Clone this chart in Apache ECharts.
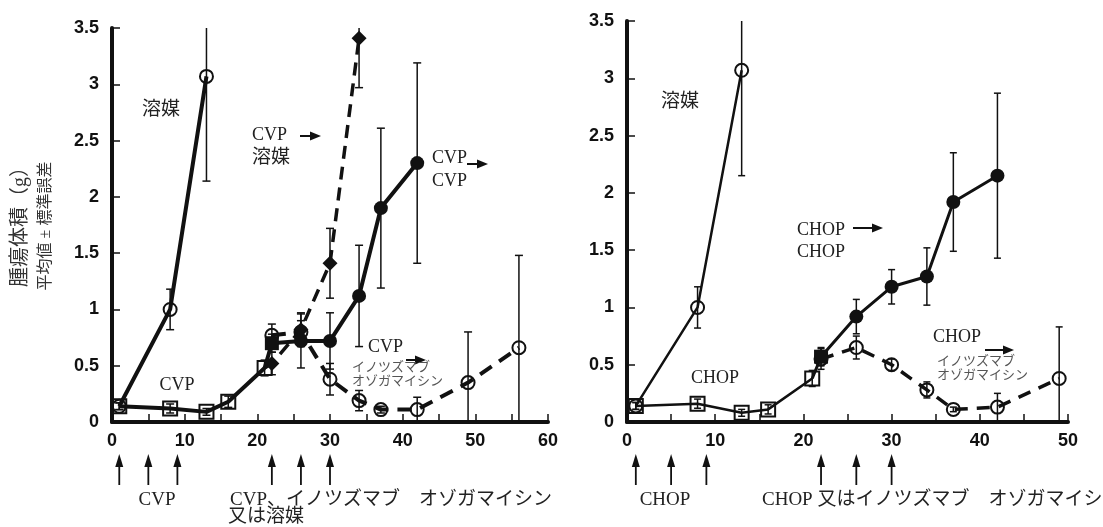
<!DOCTYPE html>
<html>
<head>
<meta charset="utf-8">
<script src="https://cdn.jsdelivr.net/npm/echarts@6/dist/echarts.min.js"></script>
<style>
  html, body { margin: 0; padding: 0; background: #fff; }
  #chart { width: 1103px; height: 527px; }
</style>
</head>
<body>
<div id="chart"></div>
<script>
// ---- CVP study (left panel): tumour volume, mean and standard error, by day ----
const cvpVehicleDays = [1, 8, 13];
const cvpVehicleMean = [0.14, 1.00, 3.07];
const cvpVehicleSe   = [0.03, 0.18, 0.93];

const cvpInductionDays = [1, 8, 13, 16, 21];
const cvpInductionMean = [0.14, 0.12, 0.09, 0.18, 0.48];
const cvpInductionSe   = [0.03, 0.04, 0.03, 0.05, 0.07];

const cvpThenVehicleDays = [22, 26, 30, 34];
const cvpThenVehicleMean = [0.52, 0.82, 1.41, 3.41];
const cvpThenVehicleSe   = [0.10, 0.15, 0.31, 0.44];

const cvpThenCvpDays = [22, 26, 30, 34, 37, 42];
const cvpThenCvpMean = [0.70, 0.72, 0.72, 1.12, 1.90, 2.30];
const cvpThenCvpSe   = [0.08, 0.24, 0.25, 0.45, 0.71, 0.89];

const cvpThenInoDays = [22, 26, 30, 34, 37, 42, 49, 56];
const cvpThenInoMean = [0.77, 0.80, 0.38, 0.19, 0.11, 0.11, 0.35, 0.66];
const cvpThenInoSe   = [0.10, 0.10, 0.14, 0.09, 0.03, 0.11, 0.45, 0.82];

const cvpDoseDays = [1, 5, 9, 22, 26, 30];

// ---- CHOP study (right panel) ----
const chopVehicleDays = [1, 8, 13];
const chopVehicleMean = [0.14, 1.00, 3.07];
const chopVehicleSe   = [0.03, 0.18, 0.92];

const chopInductionDays = [1, 8, 13, 16, 21];
const chopInductionMean = [0.14, 0.16, 0.08, 0.11, 0.38];
const chopInductionSe   = [0.03, 0.04, 0.03, 0.04, 0.07];

const chopThenChopDays = [22, 26, 30, 34, 37, 42];
const chopThenChopMean = [0.57, 0.92, 1.18, 1.27, 1.92, 2.15];
const chopThenChopSe   = [0.08, 0.15, 0.15, 0.25, 0.43, 0.72];

const chopThenInoDays = [22, 26, 30, 34, 37, 42, 49];
const chopThenInoMean = [0.55, 0.65, 0.50, 0.28, 0.11, 0.13, 0.38];
const chopThenInoSe   = [0.09, 0.10, 0.05, 0.07, 0.02, 0.12, 0.45];

const chopDoseDays = [1, 5, 9, 22, 26, 30];

// ---- axis ticks ----
const yTicks = [0, 0.5, 1, 1.5, 2, 2.5, 3, 3.5];
const cvpXMax = 60;
const chopXMax = 50;

// ---- drawing ----
const INK = '#111';
const SERIF = "'Liberation Serif','Noto Sans CJK JP',serif";
const SANS_BOLD = "'Liberation Sans',Arial,sans-serif";

const toPoints = (days, mean) => days.map((d, i) => [d, mean[i]]);

function curve(grid, days, mean, cfg) {
  const data = toPoints(days, mean).map((p, i) =>
    (i === 0 && cfg.firstSymbol) ? { value: p, symbol: cfg.firstSymbol } : { value: p });
  if (cfg.joinFrom) data.unshift({ value: cfg.joinFrom, symbol: 'none' });
  return {
    type: 'line', xAxisIndex: grid, yAxisIndex: grid, data,
    symbol: cfg.symbol, symbolSize: cfg.size,
    showAllSymbol: true,
    lineStyle: { color: INK, width: cfg.width, type: cfg.dash || 'solid' },
    itemStyle: {
      color: cfg.filled ? INK : 'rgba(255,255,255,0)',
      borderColor: INK, borderWidth: cfg.filled ? 0 : 2
    },
    emphasis: { disabled: true },
    z: cfg.z || 3, animation: false, silent: true
  };
}

function errorBars(grid, days, mean, se, cap) {
  return {
    type: 'custom', xAxisIndex: grid, yAxisIndex: grid,
    data: days.map((d, i) => [d, mean[i] - se[i], mean[i] + se[i]]),
    clip: true, silent: true, animation: false, z: 2,
    renderItem(params, api) {
      const x = api.value(0);
      const lo = api.coord([x, api.value(1)]);
      const hi = api.coord([x, api.value(2)]);
      const st = { stroke: INK, lineWidth: 1.5 };
      return {
        type: 'group', children: [
          { type: 'line', shape: { x1: lo[0], y1: lo[1], x2: hi[0], y2: hi[1] }, style: st },
          { type: 'line', shape: { x1: lo[0] - cap, y1: lo[1], x2: lo[0] + cap, y2: lo[1] }, style: st },
          { type: 'line', shape: { x1: hi[0] - cap, y1: hi[1], x2: hi[0] + cap, y2: hi[1] }, style: st }
        ]
      };
    }
  };
}

// dosing-day arrows drawn under the day axis
function doseArrows(grid, days) {
  return {
    type: 'custom', xAxisIndex: grid, yAxisIndex: grid,
    data: days.map(d => [d, 0]), clip: false, silent: true, animation: false,
    renderItem(params, api) {
      const p = api.coord([api.value(0), 0]);
      return {
        type: 'group', children: [
          { type: 'line', shape: { x1: p[0], y1: p[1] + 63, x2: p[0], y2: p[1] + 40 },
            style: { stroke: INK, lineWidth: 1.8 } },
          { type: 'polygon', shape: { points: [[p[0], p[1] + 32], [p[0] - 4, p[1] + 45], [p[0] + 4, p[1] + 45]] },
            style: { fill: INK } }
        ]
      };
    }
  };
}

function xAxis(grid, max) {
  return {
    gridIndex: grid, type: 'value', min: 0, max, interval: 5,
    axisLine: { show: true, onZero: false, lineStyle: { color: INK, width: 4 } },
    axisTick: { show: true, inside: true, length: 8, lineStyle: { color: INK, width: 1.5 } },
    axisLabel: {
      show: true, margin: 10, color: INK, fontSize: 18, fontWeight: 'bold', fontFamily: SANS_BOLD,
      formatter: v => (v % 10 === 0 ? String(v) : '')
    },
    splitLine: { show: false }
  };
}

function yAxis(grid) {
  return {
    gridIndex: grid, type: 'value', min: yTicks[0], max: yTicks[yTicks.length - 1], interval: 0.5,
    axisLine: { show: true, onZero: false, lineStyle: { color: INK, width: 4 } },
    axisTick: { show: true, inside: true, length: 8, lineStyle: { color: INK, width: 1.5 } },
    axisLabel: { show: true, margin: 13, color: INK, fontSize: 18, fontWeight: 'bold', fontFamily: SANS_BOLD },
    splitLine: { show: false }
  };
}

function note(text, x, y, size, align, color) {
  return {
    type: 'text', x, y, silent: true,
    style: { text, fill: color || '#222', fontSize: size || 18, fontFamily: SERIF,
             align: align || 'left', verticalAlign: 'middle' }
  };
}

function pointer(x1, x2, y) {
  return {
    type: 'group', silent: true, children: [
      { type: 'line', shape: { x1, y1: y, x2: x2 - 8, y2: y }, style: { stroke: INK, lineWidth: 2 } },
      { type: 'polygon', shape: { points: [[x2, y], [x2 - 11, y - 4.5], [x2 - 11, y + 4.5]] }, style: { fill: INK } }
    ]
  };
}

const cvpEnd = [cvpInductionDays[cvpInductionDays.length - 1], cvpInductionMean[cvpInductionMean.length - 1]];
const chopEnd = [chopInductionDays[chopInductionDays.length - 1], chopInductionMean[chopInductionMean.length - 1]];

const series = [
  // left panel
  errorBars(0, cvpVehicleDays, cvpVehicleMean, cvpVehicleSe, 4),
  errorBars(0, cvpInductionDays, cvpInductionMean, cvpInductionSe, 4),
  errorBars(0, cvpThenVehicleDays, cvpThenVehicleMean, cvpThenVehicleSe, 4),
  errorBars(0, cvpThenCvpDays, cvpThenCvpMean, cvpThenCvpSe, 4),
  errorBars(0, cvpThenInoDays, cvpThenInoMean, cvpThenInoSe, 4),
  curve(0, cvpVehicleDays, cvpVehicleMean, { symbol: 'circle', size: 13, width: 4 }),
  curve(0, cvpInductionDays, cvpInductionMean, { symbol: 'rect', size: 14, width: 4 }),
  curve(0, cvpThenInoDays, cvpThenInoMean, { symbol: 'circle', size: 13, width: 4, dash: [14, 9] }),
  curve(0, cvpThenVehicleDays, cvpThenVehicleMean, { symbol: 'diamond', size: 15, width: 3.5, filled: true, dash: [13, 8], joinFrom: cvpEnd, z: 4 }),
  curve(0, cvpThenCvpDays, cvpThenCvpMean, { symbol: 'circle', size: 14, width: 4, filled: true, firstSymbol: 'rect', joinFrom: cvpEnd, z: 5 }),
  doseArrows(0, cvpDoseDays),
  // right panel
  errorBars(1, chopVehicleDays, chopVehicleMean, chopVehicleSe, 3.5),
  errorBars(1, chopInductionDays, chopInductionMean, chopInductionSe, 3.5),
  errorBars(1, chopThenChopDays, chopThenChopMean, chopThenChopSe, 3.5),
  errorBars(1, chopThenInoDays, chopThenInoMean, chopThenInoSe, 3.5),
  curve(1, chopVehicleDays, chopVehicleMean, { symbol: 'circle', size: 13, width: 2.5 }),
  curve(1, chopInductionDays, chopInductionMean, { symbol: 'rect', size: 14, width: 2.5 }),
  curve(1, chopThenInoDays, chopThenInoMean, { symbol: 'circle', size: 13, width: 3.5, dash: [13, 9] }),
  curve(1, chopThenChopDays, chopThenChopMean, { symbol: 'circle', size: 14, width: 3, filled: true, firstSymbol: 'rect', joinFrom: chopEnd, z: 5 }),
  doseArrows(1, chopDoseDays)
];

const graphic = [
  // y-axis title
  { type: 'text', x: 21, y: 222, rotation: Math.PI / 2, silent: true,
    style: { text: '腫瘍体積（g）', fill: '#333', fontSize: 20, fontFamily: SERIF, align: 'center', verticalAlign: 'middle' } },
  { type: 'text', x: 46, y: 226, rotation: Math.PI / 2, silent: true,
    style: { text: '平均値 ± 標準誤差', fill: '#333', fontSize: 16, fontFamily: SERIF, align: 'center', verticalAlign: 'middle' } },

  // left panel notes
  note('溶媒', 161, 110, 19, 'center'),
  note('CVP', 252, 135, 18), pointer(300, 321, 136),
  note('溶媒', 252, 158, 19),
  note('CVP', 432, 158, 18), pointer(467, 488, 164),
  note('CVP', 432, 181, 18),
  note('CVP', 368, 347, 18), pointer(406, 426, 360),
  note('イノツズマブ', 352, 368, 13, 'left', '#555'),
  note('オゾガマイシン', 352, 382, 13, 'left', '#555'),
  note('CVP', 177, 385, 18, 'center'),
  note('CVP', 157, 500, 19, 'center'),
  note('CVP、イノツズマブ　オゾガマイシン', 230, 500, 19),
  note('又は溶媒', 228, 517, 19),

  // right panel notes
  note('溶媒', 680, 102, 19, 'center'),
  note('CHOP', 797, 230, 18), pointer(853, 883, 228),
  note('CHOP', 797, 252, 18),
  note('CHOP', 715, 378, 18, 'center'),
  note('CHOP', 933, 337, 18), pointer(985, 1014, 350),
  note('イノツズマブ', 937, 362, 13, 'left', '#555'),
  note('オゾガマイシン', 937, 376, 13, 'left', '#555'),
  note('CHOP', 665, 500, 19, 'center'),
  note('CHOP 又はイノツズマブ　オゾガマイシン', 762, 500, 19)
];

const chart = echarts.init(document.getElementById('chart'), null, { renderer: 'canvas' });
chart.setOption({
  backgroundColor: '#fff',
  animation: false,
  grid: [
    { left: 112, top: 28, width: 436, height: 394, containLabel: false, outerBoundsMode: 'none' },
    { left: 627, top: 21, width: 441, height: 401, containLabel: false, outerBoundsMode: 'none' }
  ],
  xAxis: [xAxis(0, cvpXMax), xAxis(1, chopXMax)],
  yAxis: [yAxis(0), yAxis(1)],
  series,
  graphic
});
</script>
</body>
</html>
